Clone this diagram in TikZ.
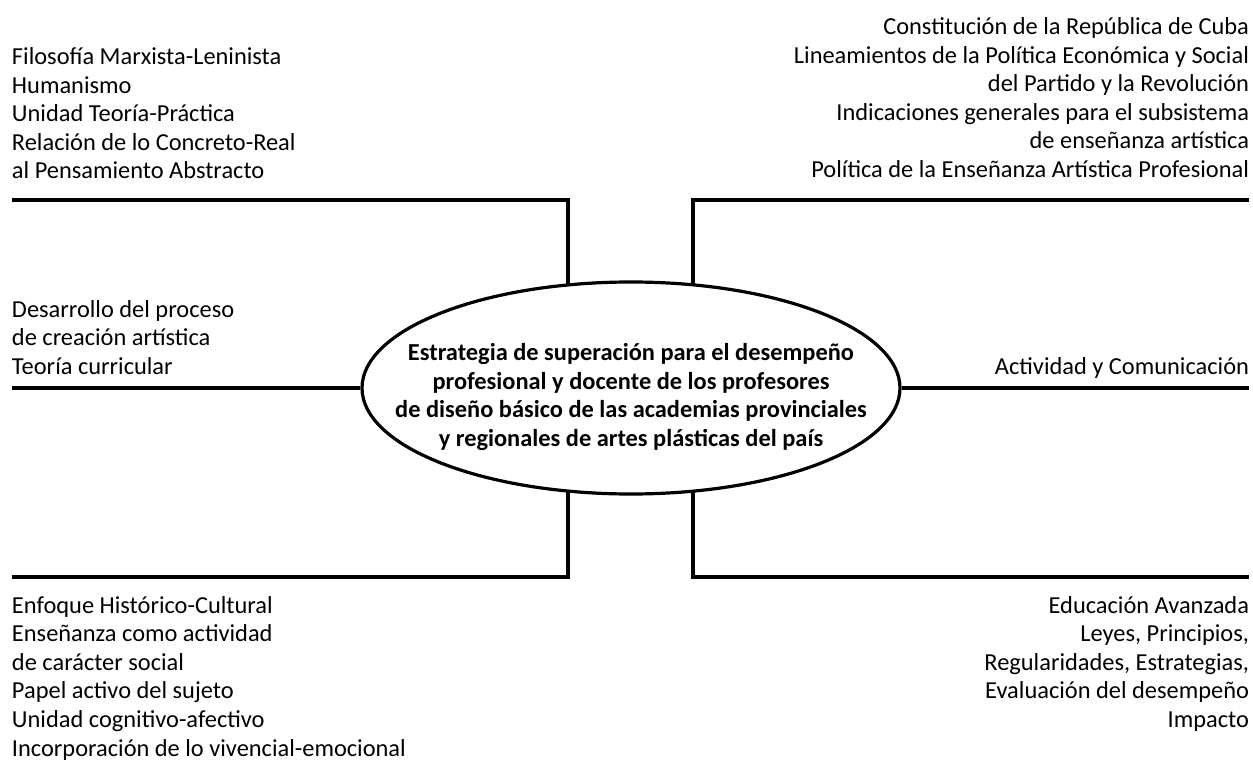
\documentclass[tikz,border=0pt]{standalone}
\usepackage{fontspec}
\setmainfont{Carlito}
\usetikzlibrary{shapes.geometric}
\begin{document}
\begin{tikzpicture}[x=1pt,y=-1pt,
  lbl/.style={inner sep=0pt, outer sep=0pt, font=\fontsize{24.4}{28.6}\selectfont},
  conn/.style={line width=3.2pt, line join=miter},
  ell/.style={draw, ellipse, line width=3.2pt, inner sep=0pt, minimum width=538pt, minimum height=212pt}
]
\useasboundingbox (0,0) rectangle (1253,762);
\node[ell] (c) at (631,388) {};
\node[lbl, font=\fontsize{24.4}{28.8}\selectfont\bfseries, align=center] (ct) at (631,397)
  {Estrategia de superación para el desempeño\\ profesional y docente de los profesores\\ de diseño básico de las academias provinciales\\ y regionales de artes plásticas del país};

\node[lbl, anchor=north west, align=left] (tl) at (12,44.5)
  {\strut Filosofía Marxista-Leninista\\ Humanismo\\ Unidad Teoría-Práctica\\ Relación de lo Concreto-Real\\ al Pensamiento Abstracto};
\node[lbl, anchor=north east, align=right] (tr) at (1249,14.5)
  {\strut Constitución de la República de Cuba\\ Lineamientos de la Política Económica y Social\\ del Partido y la Revolución\\ Indicaciones generales para el subsistema\\ de enseñanza artística\\ Política de la Enseñanza Artística Profesional};
\node[lbl, anchor=north west, align=left] (ml) at (12,297)
  {\strut Desarrollo del proceso\\ de creación artística\\ Teoría curricular};
\node[lbl, anchor=north east, align=right] (mr) at (1249,354)
  {\strut Actividad y Comunicación};
\node[lbl, anchor=north west, align=left] (bl) at (12,593)
  {\strut Enfoque Histórico-Cultural\\ Enseñanza como actividad\\ de carácter social\\ Papel activo del sujeto\\ Unidad cognitivo-afectivo\\ Incorporación de lo vivencial-emocional};
\node[lbl, anchor=north east, align=right] (br) at (1249,593)
  {\strut Educación Avanzada\\ Leyes, Principios,\\ Regularidades, Estrategias,\\ Evaluación del desempeño\\ Impacto};

\coordinate (tlEnd) at (12,200);
\coordinate (tlV) at (568,286);
\coordinate (trEnd) at (1249,200);
\coordinate (trV) at (693,286);
\coordinate (blEnd) at (12,577);
\coordinate (blV) at (568,490);
\coordinate (brEnd) at (1249,577);
\coordinate (brV) at (693,490);
\coordinate (mlEnd) at (12,388);
\coordinate (mrEnd) at (1249,388);

\draw[conn] (tlEnd) -| (tlV);
\draw[conn] (trEnd) -| (trV);
\draw[conn] (blEnd) -| (blV);
\draw[conn] (brEnd) -| (brV);
\draw[conn] (mlEnd) -- (c.west);
\draw[conn] (mrEnd) -- (c.east);
\end{tikzpicture}
\end{document}
